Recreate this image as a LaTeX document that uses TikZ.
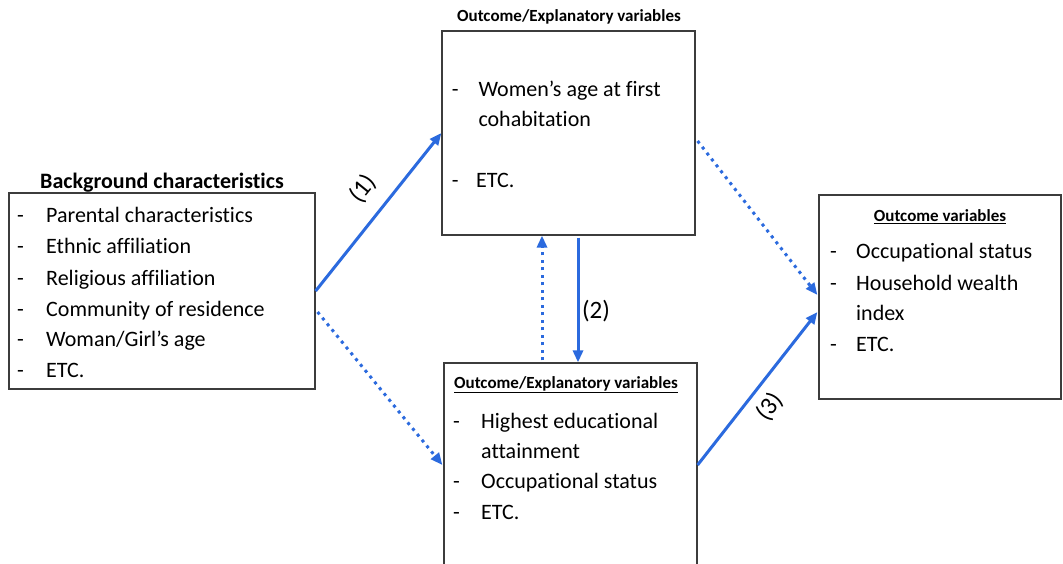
\documentclass[tikz,border=0pt]{standalone}
\usepackage{fontspec}
\setmainfont{Carlito}[Ligatures=NoCommon]
\usetikzlibrary{arrows.meta,calc}
\definecolor{arr}{RGB}{43,106,222}
\definecolor{boxc}{RGB}{60,60,60}
\tikzset{
 box/.style={draw=boxc, line width=1.2pt, rectangle, inner sep=0pt},
 body/.style={font=\fontsize{22}{26}\selectfont, anchor=base west, inner sep=0pt},
 ttl/.style={font=\fontsize{17}{20}\selectfont\bfseries, anchor=base, inner sep=0pt},
 bigttl/.style={font=\fontsize{22}{26}\selectfont\bfseries, anchor=base, inner sep=0pt},
 solidarr/.style={draw=arr, line width=3pt, -{Triangle[length=12pt,width=10pt]}},
 dotarr/.style={draw=arr, line width=3pt, dash pattern=on 3pt off 4.5pt, -{Triangle[length=12pt,width=10pt]}},
 lbl/.style={font=\fontsize{25}{30}\selectfont, inner sep=0pt},
}
\newcommand{\itm}[5]{%
 \node[body] (#1d) at (#2,#4) {-};
 \node[body] (#1t) at (#3,#4) {#5};
}
\begin{document}
\begin{tikzpicture}[x=1pt,y=-1pt]
\useasboundingbox (0,0) rectangle (1063,564);
\fill[white] (0,0) rectangle (1063,564);
% boxes
\node[box, minimum width=306pt, minimum height=196pt] (bg) at (162,291) {};
\node[box, minimum width=253pt, minimum height=204pt] (top) at (568.5,133) {};
\node[box, minimum width=253pt, minimum height=237pt] (bot) at (570.5,481.5) {};
\node[box, minimum width=242pt, minimum height=204pt] (out) at (940,297) {};
% titles
\node[bigttl] (bgtitle) at (162,188.3) {Background characteristics};
\node[ttl] (toptitle) at (569,21.7) {Outcome/Explanatory variables};
\node[ttl] (bottitle) at (566,388.3) {\underline{Outcome/Explanatory variables}};
\node[ttl] (outtitle) at (940,221.7) {\underline{Outcome variables}};
% background items
\itm{b1}{17}{46}{223}{Parental characteristics}
\itm{b2}{17}{46}{254}{Ethnic affiliation}
\itm{b3}{17}{46}{285}{Religious affiliation}
\itm{b4}{17}{46}{316}{Community of residence}
\itm{b5}{17}{46}{346}{Woman/Girl’s age}
\itm{b6}{17}{46}{377}{ETC.}
% top items
\itm{t1}{451.7}{478.3}{96.7}{Women’s age at first}
\node[body] (t2t) at (478.3,126.7) {cohabitation};
\itm{t3}{451.7}{476}{188}{ETC.}
% bottom items
\itm{u1}{453}{481}{428.3}{Highest educational}
\node[body] (u2t) at (481,458.3) {attainment};
\itm{u3}{453}{481}{488.3}{Occupational status}
\itm{u4}{453}{481}{519.3}{ETC.}
% outcome items
\itm{o1}{830}{856}{258.3}{Occupational status}
\itm{o2}{830}{856}{290}{Household wealth}
\node[body] (o3t) at (856,320) {index};
\itm{o4}{830}{856}{351.7}{ETC.}
% connectors
\draw[solidarr] (bg.east) -- (top.west);
\draw[dotarr] ($(bg.east)+(2,21)$) -- ($(bot.west)+(-1,-16.5)$);
\draw[dotarr] ($(top.east)+(2,8)$) -- ($(out.west)+(-1,-2)$);
\draw[solidarr] ($(bot.east)+(0,-16.5)$) -- ($(out.west)+(-1,15)$);
\draw[dotarr] ($(bot.north)+(-28.5,-2)$) -- ($(top.south)+(-26.5,0)$);
\draw[solidarr] ($(top.south)+(9.5,2)$) -- ($(bot.north)+(7.5,0)$);
% labels
\node[lbl, rotate=51] (l1) at (363,189) {(1)};
\node[lbl] (l2) at (596,311) {(2)};
\node[lbl, rotate=52] (l3) at (770,407) {(3)};
\end{tikzpicture}
\end{document}
